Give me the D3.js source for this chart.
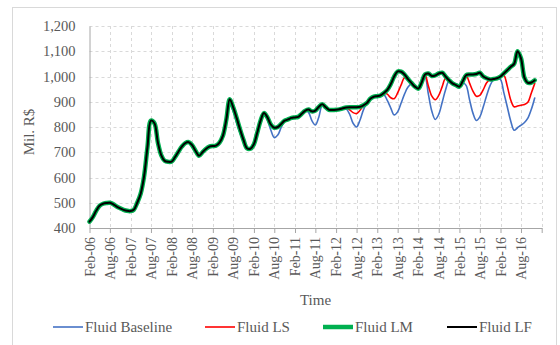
<!DOCTYPE html>
<html>
<head>
<meta charset="utf-8">
<script src="https://cdn.jsdelivr.net/npm/d3@7/dist/d3.min.js"></script>
<style>
  html, body { margin: 0; padding: 0; background: #ffffff; }
  svg { display: block; }
  text { font-family: "Liberation Serif", "Times New Roman", serif; fill: #595959; }
</style>
</head>
<body>
<svg id="chart" width="560" height="345"></svg>
<script>
// Monthly series, Feb-2006 .. Dec-2016 (131 months), Mil. R$
const fluidLF = [425,442,468,488,496,499,500,494,485,478,
  472,468,467,472,500,535,605,720,825,815,
  740,688,666,662,663,680,702,722,736,740,
  728,705,686,700,713,722,725,726,738,765,
  830,910,878,835,790,748,716,714,732,775,
  825,855,838,810,797,800,812,825,830,836,
  838,840,852,864,869,862,865,880,890,878,
  868,867,868,870,874,877,878,878,878,880,
  886,895,912,920,922,925,935,947,970,1000,
  1020,1019,1008,990,975,960,952,975,1008,1012,
  1002,1004,1012,1015,1000,985,973,966,960,980,
  1005,1008,1008,1010,1015,1000,993,988,990,993,
  1000,1012,1025,1038,1050,1100,1072,995,975,976,
  985];

const fluidLM = [425,442,468,488,496,499,500,494,485,478,
  472,468,467,472,500,535,605,720,825,815,
  740,688,666,662,663,680,702,722,736,740,
  728,705,686,700,713,722,725,726,738,765,
  830,910,878,835,790,748,716,714,732,775,
  825,855,838,810,797,800,812,825,830,836,
  838,840,852,864,869,862,865,880,890,878,
  868,867,868,870,874,877,878,878,878,880,
  886,895,912,920,922,925,935,947,970,1000,
  1020,1019,1008,990,975,960,952,975,1008,1012,
  1002,1004,1012,1015,1000,985,973,966,960,980,
  1005,1008,1008,1010,1015,1000,993,988,990,993,
  1000,1012,1025,1038,1050,1100,1072,995,975,976,
  985];

const fluidLS = [425,442,468,488,496,499,500,494,485,478,
  472,468,467,472,500,535,605,720,825,815,
  740,688,666,662,663,680,702,722,736,740,
  728,705,686,700,713,722,725,726,738,765,
  830,910,878,835,790,748,716,714,732,775,
  825,855,838,810,797,800,812,825,830,836,
  838,840,852,864,869,858,865,880,890,878,
  868,867,868,870,874,877,868,857,853,866,
  884,895,912,920,922,925,935,930,916,912,
  935,967,995,990,975,960,952,975,1008,962,
  922,908,925,960,993,985,973,966,960,980,
  1005,975,942,922,925,948,975,988,990,993,
  1000,1005,962,908,880,883,886,889,898,935,
  972];

const fluidBaseline = [425,442,468,488,496,499,500,494,485,478,
  472,468,467,472,500,535,605,720,825,815,
  740,688,666,662,663,680,702,722,736,740,
  728,705,686,700,713,722,725,726,738,765,
  830,888,862,815,775,742,716,714,732,775,
  825,855,828,788,758,768,798,823,830,836,
  838,840,852,864,858,825,808,840,885,878,
  868,867,868,870,874,872,850,815,800,828,
  868,895,912,920,922,925,928,905,875,848,
  860,895,930,958,970,960,952,975,998,930,
  862,830,850,898,948,982,973,966,960,975,
  965,910,855,826,840,880,925,965,988,993,
  988,937,880,825,787,797,807,818,835,870,
  915];

const tickLabels = ["Feb-06","Aug-06","Feb-07","Aug-07","Feb-08","Aug-08","Feb-09","Aug-09",
  "Feb-10","Aug-10","Feb-11","Aug-11","Feb-12","Aug-12","Feb-13","Aug-13",
  "Feb-14","Aug-14","Feb-15","Aug-15","Feb-16","Aug-16",""];
const yTicks = [400,500,600,700,800,900,1000,1100,1200];

const seriesNames = ["Fluid Baseline","Fluid LS","Fluid LM","Fluid LF"];
const seriesColors = ["#4472C4","#FF0000","#00B050","#000000"];
const seriesWidths = [1.6,1.6,4.5,2];

const svg = d3.select("#chart");
const W = 560, H = 345;
const margin = {left: 89.5, right: 560 - 541.7, top: 26, bottom: 345 - 228};

// outer chart frame
svg.append("rect")
  .attr("x", 12.5).attr("y", 7.5)
  .attr("width", 544).attr("height", 345)
  .attr("fill", "none").attr("stroke", "#d9d9d9");

const start = new Date(2006, 1, 1);
const months = d3.range(fluidLF.length).map(i => d3.timeMonth.offset(start, i));
const tickDates = tickLabels.map((_, i) => d3.timeMonth.offset(start, 6 * i));

const x = d3.scaleTime()
  .domain([start, d3.timeMonth.offset(start, 132)])
  .range([margin.left, W - margin.right]);
const y = d3.scaleLinear()
  .domain([400, 1200])
  .range([H - margin.bottom, margin.top]);

// gridlines
const grid = svg.append("g");
grid.selectAll("line.h").data(yTicks.slice(1)).join("line")
  .attr("x1", margin.left).attr("x2", W - margin.right)
  .attr("y1", d => Math.round(y(d)) + 0.5).attr("y2", d => Math.round(y(d)) + 0.5)
  .attr("stroke", "#d9d9d9").attr("stroke-dasharray", "3,3");
grid.selectAll("line.v").data(tickDates.slice(1)).join("line")
  .attr("x1", d => Math.round(x(d)) + 0.5).attr("x2", d => Math.round(x(d)) + 0.5)
  .attr("y1", margin.top).attr("y2", H - margin.bottom)
  .attr("stroke", "#d9d9d9").attr("stroke-dasharray", "3,3");

// y axis
const yAxis = svg.append("g")
  .attr("transform", `translate(${margin.left},0)`)
  .call(d3.axisLeft(y).tickValues(yTicks).tickSize(0).tickPadding(14)
    .tickFormat(d3.format(",")));
yAxis.select(".domain").attr("stroke", "#a6a6a6");
yAxis.selectAll("text").style("font-size", "14.5px")
  .style("font-family", "'Liberation Serif', serif").attr("fill", "#595959");

// x axis
const xAxis = svg.append("g")
  .attr("transform", `translate(0,${H - margin.bottom})`)
  .call(d3.axisBottom(x).tickValues(tickDates).tickSize(5).tickSizeOuter(0)
    .tickFormat((d, i) => tickLabels[i]));
xAxis.select(".domain").attr("stroke", "#a6a6a6");
xAxis.selectAll(".tick line").attr("stroke", "#a6a6a6");
xAxis.selectAll("text")
  .style("font-size", "14px")
  .style("font-family", "'Liberation Serif', serif")
  .attr("fill", "#595959")
  .attr("text-anchor", "end")
  .attr("transform", "rotate(-90)")
  .attr("x", -9).attr("y", 0).attr("dy", "0.33em");

// series lines
const line = d3.line()
  .x((d, i) => x(months[i]))
  .y(d => y(d))
  .curve(d3.curveCatmullRom.alpha(0.5));

const seriesData = [fluidBaseline, fluidLS, fluidLM, fluidLF];
seriesData.forEach((s, k) => {
  svg.append("path")
    .datum(s)
    .attr("fill", "none")
    .attr("stroke", seriesColors[k])
    .attr("stroke-width", seriesWidths[k])
    .attr("stroke-linejoin", "round")
    .attr("stroke-linecap", "round")
    .attr("d", line);
});

// axis titles
svg.append("text")
  .attr("transform", "translate(34,132) rotate(-90)")
  .attr("text-anchor", "middle")
  .style("font-size", "15px")
  .text("Mil. R$");
svg.append("text")
  .attr("x", 315.5).attr("y", 304.5)
  .attr("text-anchor", "middle")
  .style("font-size", "15px")
  .text("Time");

// legend
const legendX = [53, 205, 323, 447];
const legend = svg.append("g");
seriesNames.forEach((name, k) => {
  legend.append("line")
    .attr("x1", legendX[k]).attr("x2", legendX[k] + 30)
    .attr("y1", 327).attr("y2", 327)
    .attr("stroke", seriesColors[k])
    .attr("stroke-width", seriesWidths[k]);
  legend.append("text")
    .attr("x", legendX[k] + 32).attr("y", 332)
    .style("font-size", "15px")
    .text(name);
});
</script>
</body>
</html>
